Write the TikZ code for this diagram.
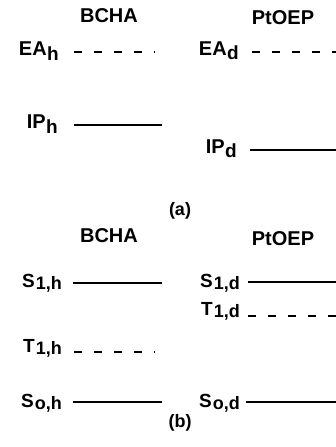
\documentclass[tikz,border=0pt]{standalone}
\usepackage{fontspec}
\setmainfont{Liberation Sans}
\newcommand\lvsubA[1]{\kern0.5pt\raisebox{-4.5pt}{\fontsize{19}{19}\selectfont\bfseries #1}}
\newcommand\lvsubB[1]{\kern1pt\raisebox{-2.5pt}{\fontsize{18}{18}\selectfont\bfseries #1}}
\tikzset{
  head/.style={inner sep=0pt, anchor=base, font=\fontsize{20}{21}\selectfont\bfseries},
  lab/.style={inner sep=0pt, anchor=base east, font=\fontsize{20}{20}\selectfont\bfseries},
  labb/.style={inner sep=0pt, anchor=base east, font=\fontsize{19}{19}\selectfont\bfseries},
  panelcap/.style={inner sep=0pt, anchor=center, font=\fontsize{18}{18}\selectfont\bfseries},
  solidlevel/.style={line width=1.2pt, black},
  dashlevel/.style={line width=1.2pt, black, dash pattern=on 8pt off 12pt},
}
\begin{document}
\begin{tikzpicture}[x=1pt,y=-1pt]
\useasboundingbox (0,0) rectangle (336,447);
% (a)
\node[head] (bcha1) at (109,23) {BCHA};
\node[head] (ptoep1) at (283,24) {PtOEP};
\node[lab] (eah) at (59,55.5) {EA\lvsubA{h}};
\node[lab] (ead) at (239,55) {EA\lvsubA{d}};
\node[lab] (iph) at (58,128.5) {IP\lvsubA{h}};
\node[lab] (ipd) at (237,153) {IP\lvsubA{d}};
\draw[dashlevel] (74,52) -- (155,52);
\draw[dashlevel] (252,52) -- (336,52);
\draw[solidlevel] (74,125) -- (162,125);
\draw[solidlevel] (250,150) -- (336,150);
\node[panelcap] (capa) at (180,210.5) {(a)};
% (b)
\node[head] (bcha2) at (109,242) {BCHA};
\node[head] (ptoep2) at (283,245) {PtOEP};
\node[labb] (s1h) at (62,287) {S\lvsubB{1,h}};
\node[labb] (s1d) at (240,287) {S\lvsubB{1,d}};
\node[labb] (t1d) at (240,315) {T\lvsubB{1,d}};
\node[labb] (t1h) at (62,352) {T\lvsubB{1,h}};
\node[labb] (s0h) at (62,407) {S\lvsubB{o,h}};
\node[labb] (s0d) at (240,407) {S\lvsubB{o,d}};
\draw[solidlevel] (73,283) -- (162,283);
\draw[solidlevel] (248,282) -- (336,282);
\draw[dashlevel] (248,316) -- (336,316);
\draw[dashlevel] (74,352) -- (155,352);
\draw[solidlevel] (73,402) -- (162,402);
\draw[solidlevel] (246,402) -- (336,402);
\node[panelcap] (capb) at (180,423) {(b)};
\end{tikzpicture}
\end{document}
